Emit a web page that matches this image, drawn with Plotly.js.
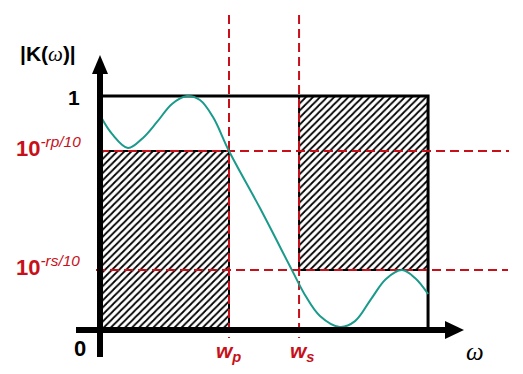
<!DOCTYPE html>
<html>
<head>
<meta charset="utf-8">
<script src="https://cdn.plot.ly/plotly-3.0.1.min.js"></script>
<style>html,body{margin:0;padding:0;background:#fff;}#chart{width:523px;height:374px;}</style>
</head>
<body>
<div id="chart"></div>
<script>
// ---- data (normalised frequency ω, magnitude |K(ω)|) ----
const omega = [0.008, 0.093, 0.217, 0.333, 0.442, 0.558, 0.674, 0.775, 0.876, 1.0, 1.240, 1.488, 1.589, 1.705, 1.860, 1.977, 2.101, 2.217, 2.341, 2.442, 2.543];
const gain  = [0.910, 0.838, 0.778, 0.821, 0.889, 0.966, 1.0, 0.983, 0.910, 0.765, 0.521, 0.256, 0.150, 0.060, 0.013, 0.038, 0.132, 0.218, 0.256, 0.222, 0.154];

// specification edges
const wp = 1.0;          // pass-band edge
const ws = 1.543;        // stop-band edge
const wEnd = 2.543;      // end of drawn frequency range
const unity = 1.0;       // |K| = 1
const passLevel = 0.765; // 10^(-rp/10)
const stopLevel = 0.256; // 10^(-rs/10)

// labels
const yAxisTitle = '<b>|K(</b><span style="font-family:\'Liberation Serif\'"><i>ω</i></span><b>)|</b>';
const xAxisTitle = '<i>ω</i>';
const unityLabel = '<b>1</b>';
const zeroLabel = '<b>0</b>';
const passLabel = '<b>10</b><sup><i>-rp/10</i></sup>';
const stopLabel = '<b>10</b><sup><i>-rs/10</i></sup>';
const wpLabel = '<b><i>w<sub>p</sub></i></b>';
const wsLabel = '<b><i>w<sub>s</sub></i></b>';

// ---- pixel helpers for layout placement only ----
const OX = 100, OY = 330, SX = 129, SY = 234;
const X = px => (px - OX) / SX;
const Y = py => (OY - py) / SY;

const RED = '#c8101a';
const TEAL = '#1a9a8b';
const hatch = {shape: '/', fgcolor: '#000', bgcolor: '#fff', size: 5, solidity: 0.35};

const traces = [
  // pass-band forbidden region
  {x: [0, wp, wp, 0, 0], y: [0, 0, passLevel, passLevel, 0], type: 'scatter', mode: 'lines',
   fill: 'toself', fillcolor: '#fff', fillpattern: hatch, line: {color: '#000', width: 2}, hoverinfo: 'skip'},
  // stop-band forbidden region
  {x: [ws, wEnd, wEnd, ws, ws], y: [stopLevel, stopLevel, unity, unity, stopLevel], type: 'scatter', mode: 'lines',
   fill: 'toself', fillcolor: '#fff', fillpattern: hatch, line: {color: '#000', width: 2}, hoverinfo: 'skip'},
  // unity line and right border
  {x: [0, wEnd, wEnd], y: [unity, unity, 0], type: 'scatter', mode: 'lines', line: {color: '#000', width: 3}, hoverinfo: 'skip'},
  // dashed reference lines
  {x: [X(100), X(509)], y: [passLevel, passLevel], type: 'scatter', mode: 'lines', line: {color: RED, width: 2, dash: '9px,5px'}},
  {x: [X(96), X(508)], y: [stopLevel, stopLevel], type: 'scatter', mode: 'lines', line: {color: RED, width: 2, dash: '9px,5px'}},
  {x: [wp, wp], y: [Y(15), Y(338)], type: 'scatter', mode: 'lines', line: {color: RED, width: 2, dash: '9px,5px'}},
  {x: [ws, ws], y: [Y(15), Y(338)], type: 'scatter', mode: 'lines', line: {color: RED, width: 2, dash: '9px,5px'}},
  // magnitude response
  {x: omega, y: gain, type: 'scatter', mode: 'lines', line: {color: TEAL, width: 2, shape: 'spline', smoothing: 1}}
];

const shapes = [
  {type: 'line', xref: 'x', yref: 'y', x0: 0, x1: 0, y0: Y(357), y1: Y(72), line: {color: '#000', width: 6}, layer: 'above'},
  {type: 'path', xref: 'x', yref: 'y', path: `M ${X(92)} ${Y(74)} L ${X(100)} ${Y(55)} L ${X(108)} ${Y(74)} Z`, fillcolor: '#000', line: {width: 0}, layer: 'above'},
  {type: 'line', xref: 'x', yref: 'y', x0: X(76), x1: X(447), y0: 0, y1: 0, line: {color: '#000', width: 6}, layer: 'above'},
  {type: 'path', xref: 'x', yref: 'y', path: `M ${X(445)} ${Y(321)} L ${X(464)} ${Y(330)} L ${X(445)} ${Y(339)} Z`, fillcolor: '#000', line: {width: 0}, layer: 'above'}
];

const F = 'Liberation Sans, Arial, sans-serif';
const ann = (text, px, py, opts) => Object.assign({
  text: text, x: X(px), y: Y(py), xref: 'x', yref: 'y', showarrow: false,
  xanchor: 'center', yanchor: 'middle', font: {family: F, size: 20, color: '#000'}
}, opts || {});

const annotations = [
  ann(yAxisTitle, 48, 54, {font: {family: F, size: 21, color: '#000'}}),
  ann(unityLabel, 74, 97, {font: {family: F, size: 21, color: '#000'}}),
  ann(zeroLabel, 80, 348, {font: {family: F, size: 22, color: '#000'}}),
  ann(passLabel, 48, 147, {font: {family: F, size: 22, color: RED}}),
  ann(stopLabel, 48, 266, {font: {family: F, size: 22, color: RED}}),
  ann(wpLabel, 228, 352, {font: {family: F, size: 21, color: RED}}),
  ann(wsLabel, 302, 352, {font: {family: F, size: 21, color: RED}}),
  ann(xAxisTitle, 475, 351, {font: {family: 'Liberation Serif, serif', size: 25, color: '#000'}})
];

const layout = {
  width: 523, height: 374,
  margin: {l: 0, r: 0, t: 0, b: 0},
  paper_bgcolor: '#fff', plot_bgcolor: '#fff',
  showlegend: false,
  xaxis: {range: [X(0), X(523)], visible: false, fixedrange: true},
  yaxis: {range: [Y(374), Y(0)], visible: false, fixedrange: true},
  shapes: shapes,
  annotations: annotations
};

Plotly.newPlot('chart', traces, layout, {staticPlot: true, displayModeBar: false});
</script>
</body>
</html>
